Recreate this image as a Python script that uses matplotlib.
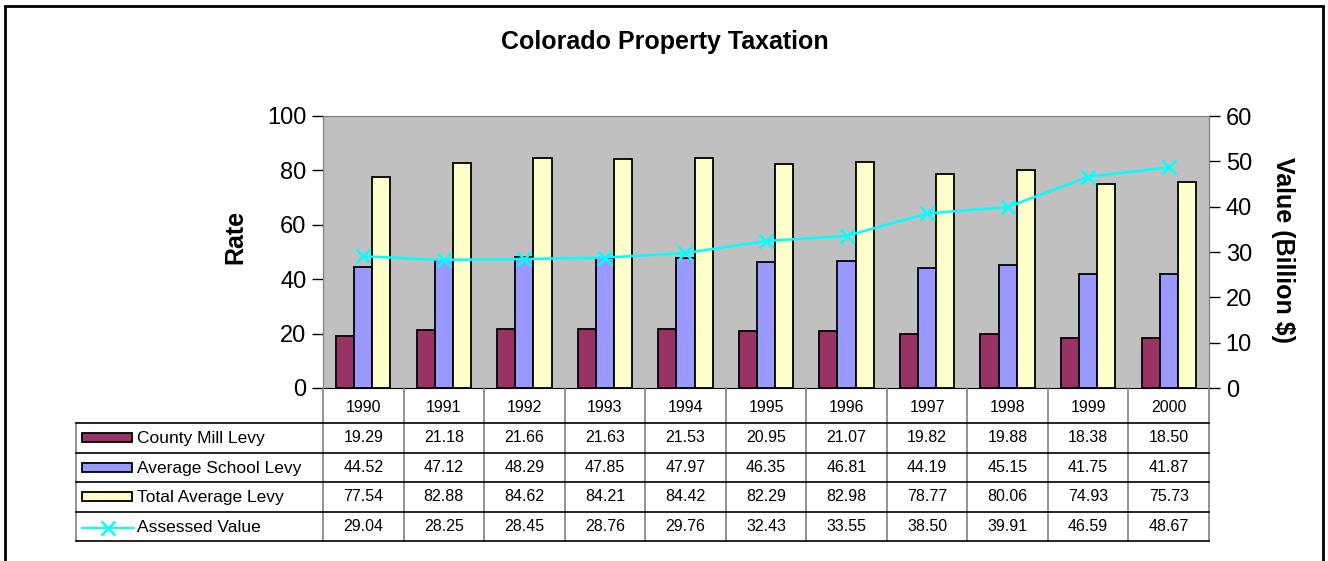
import numpy as np
import matplotlib.pyplot as plt
from matplotlib.patches import Rectangle
from matplotlib.lines import Line2D

plt.rcParams['font.family'] = ['Liberation Sans', 'DejaVu Sans']

years = ['1990', '1991', '1992', '1993', '1994', '1995', '1996', '1997', '1998', '1999', '2000']
county_mill = [19.29, 21.18, 21.66, 21.63, 21.53, 20.95, 21.07, 19.82, 19.88, 18.38, 18.50]
school_levy = [44.52, 47.12, 48.29, 47.85, 47.97, 46.35, 46.81, 44.19, 45.15, 41.75, 41.87]
total_levy = [77.54, 82.88, 84.62, 84.21, 84.42, 82.29, 82.98, 78.77, 80.06, 74.93, 75.73]
assessed = [29.04, 28.25, 28.45, 28.76, 29.76, 32.43, 33.55, 38.50, 39.91, 46.59, 48.67]

series_names = ['County Mill Levy', 'Average School Levy', 'Total Average Levy', 'Assessed Value']
bar_colors = ['#993366', '#9999FF', '#FFFFCC']
line_color = '#00FFFF'

W, H = 1328, 561
fig = plt.figure(figsize=(W / 100, H / 100), dpi=100)

# outer frame
fig.patches.append(Rectangle((5 / W, -0.05), 1318 / W, 1.05 - 6 / H, transform=fig.transFigure,
                             fill=False, edgecolor='black', linewidth=2))

fig.text(665 / W, 1 - 42 / H, 'Colorado Property Taxation', ha='center', va='center',
         fontsize=18, fontweight='bold')

# main plot area
px_l, px_r, px_t, px_b = 323, 1209, 116, 388
ax = fig.add_axes([px_l / W, 1 - px_b / H, (px_r - px_l) / W, (px_b - px_t) / H])
ax.set_facecolor('#C0C0C0')
x = np.arange(len(years))
bw = 0.225
ax.bar(x - bw, county_mill, bw, color=bar_colors[0], edgecolor='black', linewidth=1.3, zorder=2)
ax.bar(x, school_levy, bw, color=bar_colors[1], edgecolor='black', linewidth=1.3, zorder=2)
ax.bar(x + bw, total_levy, bw, color=bar_colors[2], edgecolor='black', linewidth=1.3, zorder=2)
ax.set_xlim(-0.5, len(years) - 0.5)
ax.set_ylim(0, 100)
ax.set_yticks(range(0, 101, 20))
ax.set_xticks([])
ax.tick_params(axis='y', labelsize=17, length=8, width=1, direction='out', pad=4)
for s in ['left', 'top', 'right']:
    ax.spines[s].set_color('#808080')
ax.spines['bottom'].set_color('black')
ax.set_ylabel('Rate', fontsize=18, fontweight='bold', va='center')
ax.yaxis.set_label_coords((235 - px_l) / (px_r - px_l), (px_b - 237) / (px_b - px_t))

ax2 = ax.twinx()
ax2.plot(x, assessed, color=line_color, marker='x', markersize=10, markeredgewidth=1.8,
         linewidth=1.8, zorder=3)
ax2.set_ylim(0, 60)
ax2.set_yticks(range(0, 61, 10))
ax2.tick_params(axis='y', labelsize=17, length=8, width=1, direction='out', pad=4)
for s in ['left', 'top', 'right']:
    ax2.spines[s].set_color('#808080')
ax2.spines['bottom'].set_visible(False)
ax2.set_ylabel('Value (Billion $)', fontsize=18, fontweight='bold', rotation=-90, va='center')
ax2.yaxis.set_label_coords((1283 - px_l) / (px_r - px_l), (px_b - 250) / (px_b - px_t))

# data table below the plot
tb_l, tb_t, tb_b = 76, 388, 541
tax = fig.add_axes([tb_l / W, 1 - tb_b / H, (px_r - tb_l) / W, (tb_b - tb_t) / H])
tax.set_xlim(tb_l, px_r)
tax.set_ylim(tb_b, tb_t)
tax.axis('off')
rows_y = [388, 423, 453, 482, 512, 541]
colw = (px_r - px_l) / len(years)
col_x = [px_l + i * colw for i in range(len(years) + 1)]
for cx in col_x:
    tax.plot([cx, cx], [rows_y[0], rows_y[-1]], color='#808080', linewidth=1.2, clip_on=False)
tax.plot([tb_l, tb_l], [rows_y[1], rows_y[-1]], color='#808080', linewidth=1.2, clip_on=False)
for ry in rows_y[1:]:
    tax.plot([tb_l, px_r], [ry, ry], color='black', linewidth=1.2, clip_on=False)

fs = 11.5
for i, yr in enumerate(years):
    tax.text(col_x[i] + colw / 2, (rows_y[0] + rows_y[1]) / 2 + 2, yr, ha='center', va='center', fontsize=fs)

table_rows = [county_mill, school_levy, total_levy, assessed]
for r, vals in enumerate(table_rows):
    yc = (rows_y[r + 1] + rows_y[r + 2]) / 2
    for i, v in enumerate(vals):
        tax.text(col_x[i] + colw / 2, yc, f'{v:.2f}', ha='center', va='center', fontsize=fs)
    if r < 3:
        tax.add_patch(Rectangle((82, yc - 4.5), 50, 9, facecolor=bar_colors[r], edgecolor='black',
                                linewidth=1.3, clip_on=False))
    else:
        tax.add_line(Line2D([82, 134], [yc + 2, yc + 2], color=line_color, linewidth=1.5, clip_on=False))
        tax.add_line(Line2D([108], [yc + 2], color=line_color, marker='x', markersize=10,
                            markeredgewidth=1.8, clip_on=False))
    tax.text(137, yc + 1, series_names[r], ha='left', va='center', fontsize=12.5)

fig.savefig('out.png', dpi=100)
